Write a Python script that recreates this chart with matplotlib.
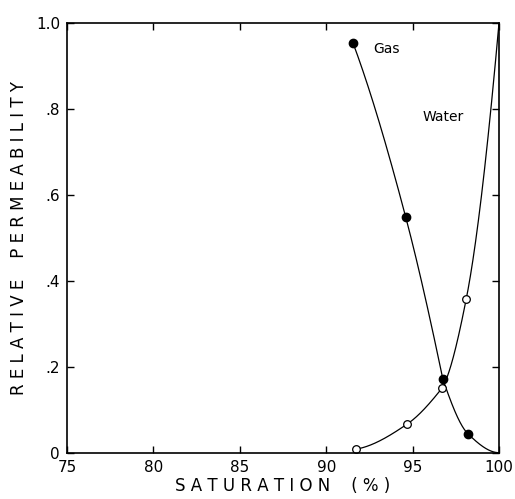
import numpy as np
import matplotlib
matplotlib.use("Agg")
import matplotlib.pyplot as plt

# Data
gas_sat = [91.55, 94.6, 96.75, 98.2, 100.0]
gas_kr = [0.953, 0.548, 0.171, 0.044, 0.0]
water_sat = [91.7, 94.7, 96.72, 98.1, 100.0]
water_kr = [0.008, 0.067, 0.151, 0.357, 1.0]
x_ticks = [75, 80, 85, 90, 95, 100]
y_ticks = [0, 0.2, 0.4, 0.6, 0.8, 1.0]
y_ticklabels = ["0", ".2", ".4", ".6", ".8", "1.0"]


def _edge(h0, h1, d0, d1):
    m = ((2 * h0 + h1) * d0 - h0 * d1) / (h0 + h1)
    if np.sign(m) != np.sign(d0):
        m = 0.0
    elif np.sign(d0) != np.sign(d1) and abs(m) > abs(3 * d0):
        m = 3 * d0
    return m


def pchip(x, y, xs):
    x = np.asarray(x, float); y = np.asarray(y, float)
    h = np.diff(x); d = np.diff(y) / h
    n = len(x); m = np.zeros(n)
    for k in range(1, n - 1):
        if d[k - 1] * d[k] > 0:
            w1 = 2 * h[k] + h[k - 1]; w2 = h[k] + 2 * h[k - 1]
            m[k] = (w1 + w2) / (w1 / d[k - 1] + w2 / d[k])
    m[0] = _edge(h[0], h[1], d[0], d[1])
    m[-1] = _edge(h[-1], h[-2], d[-1], d[-2])
    out = np.empty_like(xs)
    for i, xv in enumerate(xs):
        k = min(max(np.searchsorted(x, xv) - 1, 0), n - 2)
        t = (xv - x[k]) / h[k]
        h00 = 2*t**3 - 3*t**2 + 1; h10 = t**3 - 2*t**2 + t
        h01 = -2*t**3 + 3*t**2; h11 = t**3 - t**2
        out[i] = h00*y[k] + h10*h[k]*m[k] + h01*y[k+1] + h11*h[k]*m[k+1]
    return out


def draw_curve(ax, xv, yv, brk):
    for a, b in ((0, brk + 1), (brk, len(xv))):
        xs = np.linspace(xv[a], xv[b - 1], 300)
        ax.plot(xs, pchip(xv[a:b], yv[a:b], xs), color='black', lw=0.9)


plt.rcParams['font.family'] = ['DejaVu Sans']
fig = plt.figure(figsize=(5.15, 4.99), dpi=100)
ax = fig.add_axes([0.130, 0.0928, 0.839, 0.8617])

draw_curve(ax, gas_sat, gas_kr, 2)
draw_curve(ax, water_sat, water_kr, 2)

ax.plot(gas_sat[:-1], gas_kr[:-1], 'o', color='black', ms=6)
ax.plot(water_sat[:-1], water_kr[:-1], 'o', mfc='white', mec='black', mew=0.9, ms=5.5)

ax.text(92.75, 0.94, "Gas", fontsize=10, va='center', ha='left')
ax.text(95.55, 0.78, "Water", fontsize=10, va='center', ha='left')

ax.set_xlim(75, 100)
ax.set_ylim(0, 1.0)
ax.set_xticks(x_ticks)
ax.set_yticks(y_ticks)
ax.set_yticklabels(y_ticklabels)
ax.tick_params(direction='in', top=True, right=True, length=5, width=1,
               labelsize=11, pad=5)
for s in ax.spines.values():
    s.set_linewidth(1.2)

ax.set_xlabel("S A T U R A T I O N    ( % )", fontsize=12, labelpad=2)
ax.set_ylabel("R E L A T I V E    P E R M E A B I L I T Y", fontsize=12, labelpad=6)

fig.savefig("out.png", dpi=100)
